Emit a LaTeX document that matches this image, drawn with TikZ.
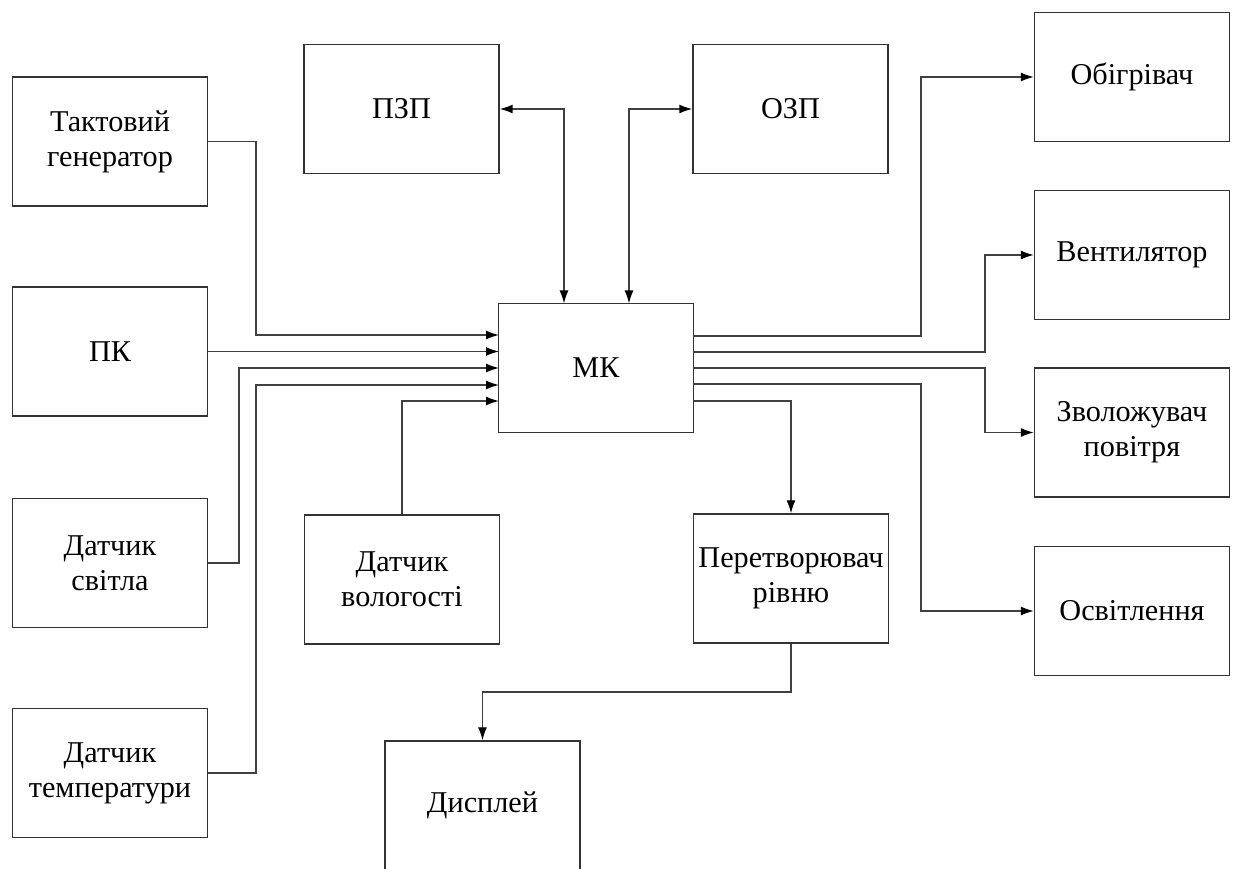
\documentclass[tikz,border=0pt]{standalone}
\usepackage{fontspec}
\setmainfont{Liberation Serif}
\usetikzlibrary{arrows.meta}

\begin{document}
\begin{tikzpicture}[
    block/.style={rectangle, draw=black!80, line width=0.4pt, minimum width=1.95cm, minimum height=1.29cm, align=center, inner sep=1pt, font=\fontsize{8.6}{10}\selectfont},
    arrow/.style={-{Latex[length=1.3mm, width=0.9mm, black]}, draw=black!75, line width=0.4pt},
    biarrow/.style={{Latex[length=1.3mm, width=0.9mm, black]}-{Latex[length=1.3mm, width=0.9mm, black]}, draw=black!75, line width=0.4pt}
]
\useasboundingbox (0,0) rectangle (12.37,-8.69);

% Входи
\node[block] (gen)   at (1.10,-1.415) {Тактовий\\генератор};
\node[block] (pc)    at (1.10,-3.515) {ПК};
\node[block] (light) at (1.10,-5.63) {Датчик\\світла};
\node[block] (temp)  at (1.10,-7.73) {Датчик\\температури};

% Пам'ять
\node[block] (rom) at (4.015,-1.09) {ПЗП};
\node[block] (ram) at (7.905,-1.09) {ОЗП};

% Мікроконтролер
\node[block] (mcu) at (5.96,-3.68) {МК};

\node[block] (hum)  at (4.02,-5.795) {Датчик\\вологості};
\node[block] (conv) at (7.91,-5.785) {Перетворювач\\рівню};
\node[block] (disp) at (4.825,-8.055) {Дисплей};

% Виходи
\node[block] (heat)  at (11.32,-0.77) {Обігрівач};
\node[block] (fan)   at (11.32,-2.55) {Вентилятор};
\node[block] (humid) at (11.32,-4.325) {Зволожувач\\повітря};
\node[block] (lamp)  at (11.32,-6.11) {Освітлення};

% Виводи МК
\coordinate (in1) at (4.99,-3.35);
\coordinate (in2) at (4.99,-3.515);
\coordinate (in3) at (4.99,-3.68);
\coordinate (in4) at (4.99,-3.85);
\coordinate (in5) at (4.99,-4.01);
\coordinate (top1) at (5.64,-3.035);
\coordinate (top2) at (6.29,-3.035);
\coordinate (out1) at (6.93,-3.36);
\coordinate (out2) at (6.93,-3.52);
\coordinate (out3) at (6.93,-3.68);
\coordinate (out4) at (6.93,-3.84);
\coordinate (out5) at (6.93,-4.01);

% Стрілки входів
\draw[arrow] (gen.east) -| (2.56,-3.35) -- (in1);
\draw[arrow] (pc.east) -- (in2);
\draw[arrow] (light.east) -| (2.39,-3.68) -- (in3);
\draw[arrow] (temp.east) -| (2.56,-3.85) -- (in4);
\draw[arrow] (hum.north) |- (in5);

% Пам'ять
\draw[biarrow] (rom.east) -| (top1);
\draw[biarrow] (ram.west) -| (top2);

% Стрілки виходів
\draw[arrow] (out1) -- (9.21,-3.36) |- (heat.west);
\draw[arrow] (out2) -- (9.85,-3.52) |- (fan.west);
\draw[arrow] (out3) -- (9.85,-3.68) |- (humid.west);
\draw[arrow] (out4) -- (9.21,-3.84) |- (lamp.west);
\draw[arrow] (out5) -| (conv.north);
\draw[arrow] (conv.south) -- (7.91,-6.92) -| (disp.north);

\end{tikzpicture}
\end{document}
